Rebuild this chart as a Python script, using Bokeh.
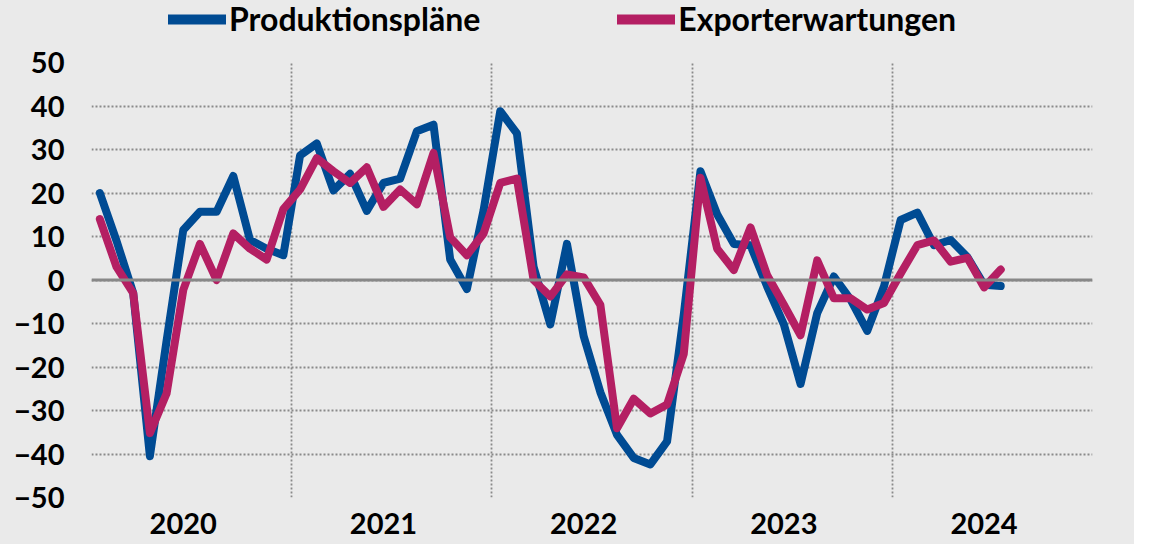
from bokeh.plotting import figure
from bokeh.models import FixedTicker, Span, Legend, LegendItem, ColumnDataSource
from bokeh.layouts import column
from bokeh.embed import file_html
from bokeh.resources import INLINE

years = ["2020", "2021", "2022", "2023", "2024"]
produktionsplaene = [
    20, 9, -3, -40.5, -14, 11.5, 15.7, 15.7, 23.9, 9.2, 7.2, 5.7,
    28.6, 31.4, 20.6, 24.4, 15.9, 22.3, 23.3, 34.2, 35.7, 4.7, -2.1, 16,
    38.8, 33.7, 3, -10.2, 8.3, -12.9, -25.8, -35.6, -40.9, -42.4, -37.1, -8,
    25, 15.1, 8.3, 8, -1.5, -10.2, -23.9, -7.6, 0.8, -4.5, -11.7, -1.5,
    13.8, 15.5, 8, 9.2, 5.3, -1.1, -1.4,
]
exporterwartungen = [
    14, 3, -3, -35.2, -26.1, -2.3, 8.3, 0, 10.7, 7.2, 4.7, 16.3,
    20.8, 28, 25, 22.3, 25.9, 16.8, 20.8, 17.4, 29.2, 9.8, 5.7, 10.7,
    22.3, 23.3, 0, -3.8, 1.3, 0.6, -5.7, -34.1, -27.3, -30.7, -28.6, -17,
    23.5, 7.2, 2.3, 12.1, 1.1, -5.7, -12.7, 4.5, -4.2, -4.2, -6.8, -5.3,
    1.5, 8, 9.1, 4.2, 5.1, -1.7, 2.4,
]
y_ticks = [-50, -40, -30, -20, -10, 0, 10, 20, 30, 40, 50]

months = [i + 0.5 for i in range(len(produktionsplaene))]
src = ColumnDataSource(dict(x=months, p=produktionsplaene, e=exporterwartungen))

BG = "#EAEAEA"
BLUE = "#004B93"
MAG = "#B41F63"
FONT = "Lato"
LW = 8

# ---------- main chart ----------
p = figure(width=1134, height=504, x_range=(0, 60), y_range=(-50, 50),
           output_backend="svg", toolbar_location=None,
           min_border_left=91, min_border_right=42, min_border_top=22, min_border_bottom=47)
p.background_fill_color = BG
p.border_fill_color = BG
p.outline_line_color = None

p.xgrid.ticker = FixedTicker(ticks=[0, 12, 24, 36, 48, 60])
p.ygrid.ticker = FixedTicker(ticks=y_ticks)
for g in (p.xgrid, p.ygrid):
    g.grid_line_color = "#8A8A8A"
    g.grid_line_dash = "2 2"
    g.grid_line_width = 1.8

p.add_layout(Span(location=0, dimension="width", line_color="#888888", line_width=3))

p.xaxis.ticker = FixedTicker(ticks=[5.5 + 12 * i for i in range(len(years))])
p.xaxis.major_label_overrides = {5.5 + 12 * i: y for i, y in enumerate(years)}
p.yaxis.ticker = FixedTicker(ticks=y_ticks)
for ax in (p.xaxis, p.yaxis):
    ax.axis_line_color = None
    ax.major_tick_line_color = None
    ax.minor_tick_line_color = None
    ax.major_tick_out = 0
    ax.major_tick_in = 0
    ax.major_label_text_font = FONT
    ax.major_label_text_font_style = "bold"
    ax.major_label_text_font_size = "29px"
    ax.major_label_text_color = "#000000"
p.yaxis.major_label_standoff = 27
p.xaxis.major_label_standoff = 15

p.line("x", "p", source=src, line_color=BLUE, line_width=LW, line_join="round", line_cap="round")
p.line("x", "e", source=src, line_color=MAG, line_width=LW, line_join="round", line_cap="round")

# ---------- legend strip ----------
lg = figure(width=1134, height=40, x_range=(-200, -100), y_range=(-200, -100),
            output_backend="svg", toolbar_location=None,
            min_border_left=91, min_border_right=42, min_border_top=0, min_border_bottom=0)
lg.axis.visible = False
lg.grid.visible = False
lg.background_fill_color = BG
lg.border_fill_color = BG
lg.outline_line_color = None
d1 = lg.line("x", "p", source=src, line_color=BLUE, line_width=LW + 2, line_cap="round")
d2 = lg.line("x", "e", source=src, line_color=MAG, line_width=LW + 2, line_cap="round")
legend = Legend(items=[LegendItem(label="Produktionspläne", renderers=[d1]),
                       LegendItem(label="Exporterwartungen", renderers=[d2])],
                location=(77, 2), orientation="horizontal",
                glyph_width=58, glyph_height=34, label_standoff=3, spacing=137,
                padding=0, margin=0, background_fill_alpha=0, border_line_color=None,
                label_text_font=FONT, label_text_font_style="bold",
                label_text_font_size="32px", label_text_color="#000000",
                label_height=34)
lg.add_layout(legend, "center")

layout = column(lg, p, spacing=0)
layout.styles = {"background-color": BG}
open("out.html", "w").write(file_html(layout, INLINE))
